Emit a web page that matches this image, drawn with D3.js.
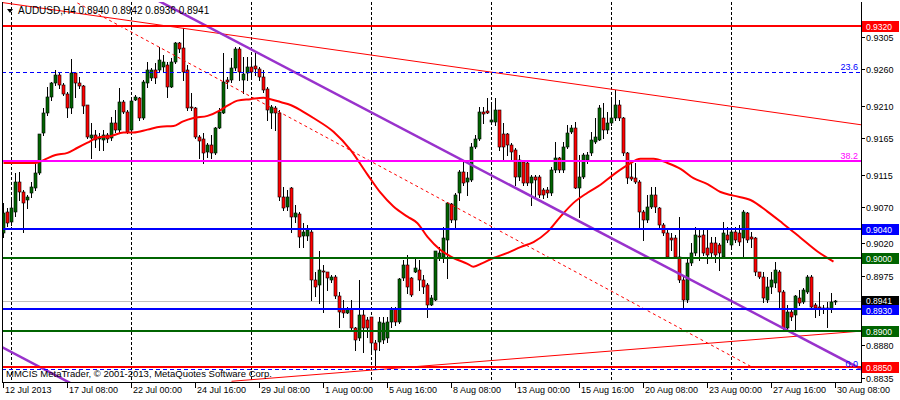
<!DOCTYPE html>
<html><head><meta charset="utf-8">
<script src="https://cdn.jsdelivr.net/npm/d3@7"></script>
<style>
html,body{margin:0;padding:0;background:#fff;}
svg{display:block;font-family:"Liberation Sans",Arial,sans-serif;}
</style></head><body>
<svg id="chart" width="900" height="400"></svg>
<script>
// ---------------- DATA ----------------
const symbol = "AUDUSD,H4";
const lastQuote = ["0.8940", "0.8942", "0.8936", "0.8941"];
const copyright = "MMCIS MetaTrader, \u00A9 2001-2013, MetaQuotes Software Corp.";

const open = [
0.9035,0.9064,0.9050,0.9064,0.9105,0.9091,0.9080,0.9090,0.9097,0.9117,
0.9173,0.9200,0.9222,0.9241,0.9252,0.9239,0.9226,0.9207,0.9255,0.9241,
0.9237,0.9211,0.9166,0.9170,0.9164,0.9163,0.9170,0.9166,0.9186,0.9177,
0.9215,0.9201,0.9177,0.9218,0.9221,0.9193,0.9241,0.9248,0.9259,0.9259,
0.9263,0.9266,0.9236,0.9270,0.9297,0.9290,0.9259,0.9208,0.9207,0.9167,
0.9164,0.9146,0.9156,0.9145,0.9179,0.9200,0.9246,0.9246,0.9262,0.9288,
0.9246,0.9255,0.9263,0.9265,0.9261,0.9250,0.9233,0.9200,0.9207,0.9200,
0.9084,0.9071,0.9097,0.9057,0.9060,0.9031,0.9031,0.9036,0.8970,0.8963,
0.8982,0.8980,0.8970,0.8974,0.8947,0.8929,0.8924,0.8929,0.8904,0.8890,
0.8922,0.8915,0.8919,0.8883,0.8884,0.8887,0.8889,0.8912,0.8929,0.8912,
0.8973,0.8991,0.8973,0.8981,0.8984,0.8970,0.8963,0.8935,0.8942,0.9000,
0.9002,0.9025,0.9075,0.9053,0.9090,0.9119,0.9105,0.9108,0.9153,0.9164,
0.9201,0.9203,0.9188,0.9188,0.9204,0.9171,0.9171,0.9156,0.9149,0.9112,
0.9133,0.9131,0.9104,0.9112,0.9112,0.9094,0.9094,0.9090,0.9122,0.9138,
0.9122,0.9153,0.9174,0.9179,0.9097,0.9112,0.9135,0.9145,0.9160,0.9163,
0.9193,0.9177,0.9186,0.9193,0.9211,0.9193,0.9145,0.9112,0.9110,0.9105,
0.9064,0.9053,0.9071,0.9087,0.9069,0.9046,0.9035,0.9028,0.9028,0.9002,
0.8970,0.8942,0.8993,0.9007,0.9031,0.9032,0.9014,0.9021,0.9021,0.9018,
0.9002,0.9032,0.9018,0.9036,0.9035,0.9028,0.9062,0.9029,0.9028,0.8980,
0.8974,0.8942,0.8960,0.8966,0.8981,0.8953,0.8904,0.8926,0.8922,0.8945,
0.8940,0.8953,0.8974,0.8935,0.8933,0.8931,0.8929,0.8929,0.8940];

const high = [
0.9076,0.9069,0.9080,0.9117,0.9119,0.9094,0.9087,0.9105,0.9131,0.9171,
0.9207,0.9236,0.9243,0.9259,0.9257,0.9241,0.9229,0.9275,0.9257,0.9250,
0.9239,0.9211,0.9186,0.9177,0.9173,0.9177,0.9173,0.9195,0.9204,0.9235,
0.9218,0.9204,0.9218,0.9225,0.9222,0.9246,0.9270,0.9262,0.9269,0.9291,
0.9280,0.9270,0.9276,0.9298,0.9298,0.9317,0.9266,0.9228,0.9208,0.9170,
0.9173,0.9159,0.9170,0.9181,0.9207,0.9283,0.9250,0.9276,0.9291,0.9291,
0.9277,0.9277,0.9273,0.9283,0.9263,0.9259,0.9236,0.9211,0.9210,0.9204,
0.9098,0.9094,0.9098,0.9073,0.9064,0.9048,0.9046,0.9039,0.8980,0.9009,
0.8991,0.8981,0.8977,0.8977,0.8953,0.8942,0.8933,0.8942,0.8905,0.8970,
0.8931,0.8919,0.8919,0.8887,0.8918,0.8919,0.8918,0.8933,0.8933,0.8973,
0.8997,0.9004,0.8974,0.9000,0.8997,0.8977,0.8966,0.8949,0.9009,0.9015,
0.9043,0.9077,0.9076,0.9090,0.9122,0.9133,0.9119,0.9159,0.9170,0.9208,
0.9208,0.9221,0.9215,0.9221,0.9204,0.9186,0.9173,0.9159,0.9152,0.9142,
0.9135,0.9135,0.9115,0.9115,0.9115,0.9097,0.9098,0.9126,0.9160,0.9139,
0.9160,0.9184,0.9184,0.9188,0.9142,0.9145,0.9146,0.9174,0.9193,0.9211,
0.9214,0.9201,0.9221,0.9232,0.9218,0.9195,0.9146,0.9133,0.9131,0.9108,
0.9066,0.9087,0.9098,0.9098,0.9071,0.9048,0.9039,0.9035,0.9032,0.9057,
0.8974,0.9002,0.9021,0.9043,0.9039,0.9039,0.9039,0.9029,0.9029,0.9021,
0.9050,0.9043,0.9043,0.9043,0.9046,0.9066,0.9064,0.9036,0.9029,0.8981,
0.8980,0.8974,0.8981,0.8995,0.8984,0.8956,0.8935,0.8929,0.8949,0.8956,
0.8959,0.8977,0.8977,0.8938,0.8953,0.8935,0.8940,0.8952,0.8942];

const low = [
0.9029,0.9044,0.9046,0.9058,0.9080,0.9036,0.9069,0.9084,0.9094,0.9116,
0.9170,0.9197,0.9218,0.9239,0.9235,0.9225,0.9195,0.9200,0.9222,0.9235,
0.9200,0.9166,0.9138,0.9153,0.9149,0.9149,0.9160,0.9163,0.9174,0.9174,
0.9200,0.9173,0.9174,0.9218,0.9190,0.9192,0.9236,0.9246,0.9241,0.9257,
0.9257,0.9222,0.9236,0.9269,0.9284,0.9246,0.9204,0.9204,0.9166,0.9138,
0.9131,0.9139,0.9138,0.9144,0.9179,0.9200,0.9235,0.9243,0.9259,0.9246,
0.9228,0.9246,0.9250,0.9252,0.9246,0.9229,0.9190,0.9179,0.9177,0.9080,
0.9066,0.9066,0.9036,0.9050,0.9015,0.9015,0.9025,0.8942,0.8947,0.8938,
0.8926,0.8956,0.8967,0.8945,0.8905,0.8918,0.8924,0.8901,0.8873,0.8887,
0.8871,0.8891,0.8871,0.8847,0.8873,0.8883,0.8884,0.8905,0.8908,0.8911,
0.8970,0.8952,0.8947,0.8980,0.8956,0.8952,0.8919,0.8935,0.8942,0.8997,
0.8995,0.8973,0.9050,0.9043,0.9080,0.9101,0.9087,0.9106,0.9152,0.9163,
0.9186,0.9200,0.9186,0.9184,0.9149,0.9135,0.9142,0.9135,0.9101,0.9108,
0.9101,0.9101,0.9073,0.9084,0.9084,0.9083,0.9084,0.9087,0.9119,0.9119,
0.9119,0.9152,0.9173,0.9097,0.9057,0.9110,0.9131,0.9142,0.9159,0.9163,
0.9166,0.9173,0.9184,0.9190,0.9190,0.9142,0.9104,0.9108,0.9104,0.9043,
0.9025,0.9050,0.9069,0.9064,0.9043,0.9032,0.9002,0.9011,0.9000,0.8967,
0.8931,0.8940,0.8991,0.9004,0.8997,0.9004,0.8993,0.9002,0.8995,0.8984,
0.9000,0.9022,0.9015,0.9022,0.9018,0.9002,0.9022,0.9015,0.8977,0.8973,
0.8940,0.8940,0.8952,0.8960,0.8929,0.8901,0.8901,0.8915,0.8901,0.8935,
0.8938,0.8952,0.8929,0.8918,0.8922,0.8924,0.8905,0.8926,0.8936];

const close = [
0.9062,0.9048,0.9069,0.9105,0.9091,0.9076,0.9084,0.9098,0.9117,0.9171,
0.9200,0.9222,0.9241,0.9252,0.9239,0.9226,0.9207,0.9255,0.9241,0.9237,
0.9210,0.9167,0.9170,0.9163,0.9167,0.9170,0.9164,0.9186,0.9177,0.9215,
0.9201,0.9174,0.9217,0.9222,0.9193,0.9243,0.9259,0.9259,0.9248,0.9273,
0.9270,0.9236,0.9270,0.9297,0.9288,0.9257,0.9207,0.9207,0.9167,0.9162,
0.9145,0.9156,0.9145,0.9179,0.9201,0.9243,0.9243,0.9262,0.9288,0.9257,
0.9254,0.9263,0.9257,0.9261,0.9250,0.9232,0.9204,0.9208,0.9200,0.9084,
0.9069,0.9084,0.9057,0.9062,0.9029,0.9036,0.9039,0.8970,0.8960,0.8984,
0.8980,0.8973,0.8974,0.8947,0.8926,0.8924,0.8929,0.8904,0.8887,0.8922,
0.8904,0.8904,0.8883,0.8873,0.8912,0.8911,0.8912,0.8929,0.8912,0.8971,
0.8991,0.8960,0.8949,0.8986,0.8970,0.8960,0.8935,0.8945,0.9009,0.9007,
0.9028,0.9076,0.9053,0.9087,0.9119,0.9104,0.9110,0.9153,0.9164,0.9201,
0.9199,0.9200,0.9190,0.9204,0.9153,0.9153,0.9156,0.9146,0.9112,0.9135,
0.9104,0.9104,0.9112,0.9108,0.9087,0.9087,0.9090,0.9122,0.9138,0.9122,
0.9153,0.9173,0.9179,0.9097,0.9112,0.9142,0.9142,0.9163,0.9167,0.9207,
0.9177,0.9186,0.9193,0.9211,0.9193,0.9145,0.9110,0.9109,0.9105,0.9064,
0.9053,0.9071,0.9087,0.9071,0.9046,0.9035,0.9002,0.9025,0.9002,0.8970,
0.8942,0.8993,0.9007,0.9032,0.9029,0.9007,0.9004,0.9007,0.9004,0.9007,
0.9035,0.9025,0.9036,0.9025,0.9022,0.9064,0.9025,0.9026,0.8980,0.8974,
0.8945,0.8960,0.8970,0.8984,0.8953,0.8904,0.8926,0.8919,0.8947,0.8938,
0.8956,0.8974,0.8933,0.8931,0.8929,0.8929,0.8931,0.8940,0.8941];

// moving average: bar index, value
const maBars = [0,8,10,13,16,18.5,21,23.5,26.75,30,32.5,36,39.25,42.5,44.75,47.5,51,54.25,56,58.5,61.75,65,66.75,69.25,71.75,74.25,77.5,82.5,86.75,91,94.25,97.5,101,103.5,106,109.25,112.5,116,117.5,119.75,122.5,126,129.25,132.5,136,139.25,142.5,146,149.25,152.5,156,159.25,162.5,166,169.25,172.5,176,179.25,182.5,186.75,191,194.75,199.25,203.5,207.5];
const maValues = [0.9131,0.9131,0.9135,0.9142,0.9145,0.9152,0.9159,0.9166,0.9168,0.9173,0.9173,0.9177,0.9181,0.9182,0.9188,0.9193,0.9196,0.9204,0.9210,0.9217,0.9219,0.9221,0.9219,0.9215,0.9211,0.9204,0.9193,0.9174,0.9149,0.9115,0.9090,0.9071,0.9057,0.9048,0.9029,0.9011,0.9000,0.8992,0.8988,0.8993,0.9000,0.9007,0.9015,0.9022,0.9036,0.9057,0.9076,0.9090,0.9101,0.9115,0.9128,0.9137,0.9137,0.9131,0.9123,0.9110,0.9102,0.9091,0.9086,0.9080,0.9064,0.9048,0.9028,0.9009,0.8995];

// time axis
const timeLabels = ["12 Jul 2013","17 Jul 08:00","22 Jul 00:00","24 Jul 16:00","29 Jul 08:00","1 Aug 00:00","5 Aug 16:00","8 Aug 08:00","13 Aug 00:00","15 Aug 16:00","20 Aug 08:00","23 Aug 00:00","27 Aug 16:00","30 Aug 08:00"];
const timeLabelBars = [0,16,32,48,64,80,96,112,128,144,160,176,192,208];
const weekStartBars = [2,32,62,92,122,152,182];

// price axis (0.8930 tick sits under the level boxes)
const priceTicks = ["0.9305","0.9260","0.9210","0.9165","0.9115","0.9070","0.9020","0.8975","0.8880","0.8835"];
const hiddenTick = "0.8930";
const priceMin = 0.8829, priceMax = 0.9353;
const barMin = 0, barMax = 208;

// horizontal lines
const levelPrices = [0.9320, 0.9040, 0.9000, 0.8930, 0.8900, 0.8850];
const levelLabels = ["0.9320","0.9040","0.9000","0.8930","0.8900","0.8850"];
const bidPrice = 0.8941;
const bidLabel = "0.8941";
const fibPrices = [0.9257, 0.8847];
const fibLabels = ["23.6", "0.0"];
const markPrice = 0.9134;
const markLabel = "38.2";

// trend lines: [bar, price] pairs
const channelUpper = [[40, 0.9351], [214, 0.8848]];
const channelLower = [[0, 0.8876], [40, 0.8760]];
const trendTop = [[0, 0.9352], [214, 0.9184]];
const trendDotted = [[17, 0.9356], [187, 0.8850]];
const trendBottom = [[57, 0.8830], [214, 0.8899]];

// ---------------- DRAW ----------------
const W = 900, H = 400;
const L = 2, R = 861, T = 2, B = 382;
const svg = d3.select("#chart");
svg.append("rect").attr("width", W).attr("height", H).attr("fill", "#fff");

const x = d3.scaleLinear().domain([barMin, barMax]).range([3.5, 835.5]);
const y = d3.scaleLinear().domain([priceMin, priceMax]).range([B, T]);
const yi = p => Math.round(y(p));

svg.append("clipPath").attr("id", "plot").append("rect")
  .attr("x", L).attr("y", T).attr("width", R - L).attr("height", B - T);
const g = svg.append("g").attr("clip-path", "url(#plot)");

// period separators
g.selectAll("line.sep").data(weekStartBars).join("line")
  .attr("x1", d => x(d)).attr("x2", d => x(d)).attr("y1", T).attr("y2", B)
  .attr("stroke", "#000").attr("stroke-width", 1).attr("stroke-dasharray", "3,2");

// bid line
g.append("line").attr("x1", L).attr("x2", R)
  .attr("y1", yi(bidPrice) + 0.5).attr("y2", yi(bidPrice) + 0.5)
  .attr("stroke", "#C0C0C0").attr("stroke-width", 1);

// candles
const bars = d3.range(open.length).map(i => ({i, o: open[i], h: high[i], l: low[i], c: close[i]}));
const cg = g.append("g");
cg.selectAll("line.wick").data(bars).join("line")
  .attr("x1", d => x(d.i)).attr("x2", d => x(d.i))
  .attr("y1", d => yi(d.h)).attr("y2", d => yi(d.l) + 1)
  .attr("stroke", "#000").attr("stroke-width", 1);
cg.selectAll("rect.body").data(bars).join("rect")
  .attr("x", d => x(d.i) - 1.5)
  .attr("y", d => yi(Math.max(d.o, d.c)))
  .attr("width", 3)
  .attr("height", d => Math.max(1, yi(Math.min(d.o, d.c)) - yi(Math.max(d.o, d.c))))
  .attr("fill", d => d.c > d.o ? "#006400" : (d.c < d.o ? "#FF0000" : "#000"))
  .attr("stroke", "#000").attr("stroke-width", 0.6);

// moving average
const maPts = maBars.map((b, k) => [b, maValues[k]]);
g.append("path").datum(maPts)
  .attr("d", d3.line().x(d => x(d[0])).y(d => y(d[1])).curve(d3.curveMonotoneX))
  .attr("fill", "none").attr("stroke", "#FF0000").attr("stroke-width", 2);

// trend lines (extended along their slope)
function ext(pts, b0, b1) {
  const [[xa, pa], [xb, pb]] = pts;
  const s = (pb - pa) / (xb - xa);
  return [[b0, pa + (b0 - xa) * s], [b1, pa + (b1 - xa) * s]];
}
const lineGen = d3.line().x(d => x(d[0])).y(d => y(d[1]));
function trend(pts, b0, b1, color, w, dash) {
  const p = g.append("path").datum(ext(pts, b0, b1)).attr("d", lineGen)
    .attr("fill", "none").attr("stroke", color).attr("stroke-width", w);
  if (dash) p.attr("stroke-dasharray", dash);
}
trend(trendTop, -5, 230, "#FF0000", 1);
trend(trendDotted, 0, trendDotted[1][0], "#FF0000", 1, "3,3");
trend(trendBottom, trendBottom[0][0], 230, "#FF0000", 1);
trend(channelUpper, 0, 230, "#9932CC", 2.5);
trend(channelLower, -5, 80, "#9932CC", 2.5);

// horizontal levels
const levelColors = ["#FF0000", "#0000FF", "#006400", "#0000FF", "#006400", "#FF0000"];
g.selectAll("line.lvl").data(levelPrices).join("line")
  .attr("x1", L).attr("x2", R)
  .attr("y1", d => yi(d)).attr("y2", d => yi(d))
  .attr("stroke", (d, k) => levelColors[k]).attr("stroke-width", 2);

// fibo dashed lines + magenta mark
g.selectAll("line.fib").data(fibPrices).join("line")
  .attr("x1", L).attr("x2", R)
  .attr("y1", d => yi(d) + 0.5).attr("y2", d => yi(d) + 0.5)
  .attr("stroke", "#0000FF").attr("stroke-width", 1).attr("stroke-dasharray", "4,3");
g.append("line").attr("x1", L).attr("x2", R)
  .attr("y1", yi(markPrice)).attr("y2", yi(markPrice))
  .attr("stroke", "#FF00FF").attr("stroke-width", 2);

const fs = 9;
g.selectAll("text.fib").data(fibPrices).join("text")
  .attr("x", 858).attr("y", d => yi(d) - 2)
  .attr("text-anchor", "end").attr("font-size", fs).attr("fill", "#0000FF")
  .text((d, k) => fibLabels[k]);
g.append("text").attr("x", 858).attr("y", yi(markPrice) - 2)
  .attr("text-anchor", "end").attr("font-size", fs).attr("fill", "#FF00FF")
  .text(markLabel);

// header & copyright
svg.append("path").attr("d", "M7,9 L13,9 L10,13 Z").attr("fill", "#000");
svg.append("text").attr("x", 18).attr("y", 14).attr("font-size", 10).attr("fill", "#000")
  .text(symbol + " " + lastQuote.join(" "));
svg.append("text").attr("x", 6).attr("y", 377).attr("font-size", 9.5).attr("fill", "#000")
  .text(copyright);

// frame
svg.append("line").attr("x1", L + 0.5).attr("x2", L + 0.5).attr("y1", T).attr("y2", B).attr("stroke", "#000");
svg.append("line").attr("x1", R + 0.5).attr("x2", R + 0.5).attr("y1", T).attr("y2", B + 1).attr("stroke", "#000");
svg.append("line").attr("x1", L).attr("x2", R + 1).attr("y1", B + 0.5).attr("y2", B + 0.5).attr("stroke", "#000");

// price axis ticks & labels
const ax = svg.append("g");
priceTicks.concat([hiddenTick]).forEach(t => {
  const yy = yi(+t) + 0.5;
  ax.append("line").attr("x1", R + 1).attr("x2", R + 4).attr("y1", yy).attr("y2", yy).attr("stroke", "#000");
});
priceTicks.forEach(t => {
  const yy = yi(+t) + 0.5;
  ax.append("text").attr("x", 866).attr("y", yy + 3.5).attr("font-size", fs).attr("fill", "#000").text(t);
});
// time axis
timeLabelBars.forEach((b, k) => {
  const xx = x(b);
  svg.append("line").attr("x1", xx).attr("x2", xx).attr("y1", B + 1).attr("y2", B + 6).attr("stroke", "#000");
  svg.append("text").attr("x", xx + 1.5).attr("y", 393).attr("font-size", fs).attr("fill", "#000").text(timeLabels[k]);
});

// price label boxes
function box(p, txt, color, top, h, base) {
  const yy = yi(p);
  ax.append("rect").attr("x", 862).attr("y", yy + top).attr("width", 37).attr("height", h).attr("fill", color);
  ax.append("text").attr("x", 866).attr("y", yy + base).attr("font-size", 8.5).attr("fill", "#fff").text(txt);
}
box(bidPrice, bidLabel, "#000", -5, 10, 2.5);
levelPrices.forEach((p, k) => {
  if (levelLabels[k] === "0.8930") box(p, levelLabels[k], levelColors[k], -4, 10, 4.5);
  else box(p, levelLabels[k], levelColors[k], -5, 11, 3.5);
});
</script>
</body></html>
